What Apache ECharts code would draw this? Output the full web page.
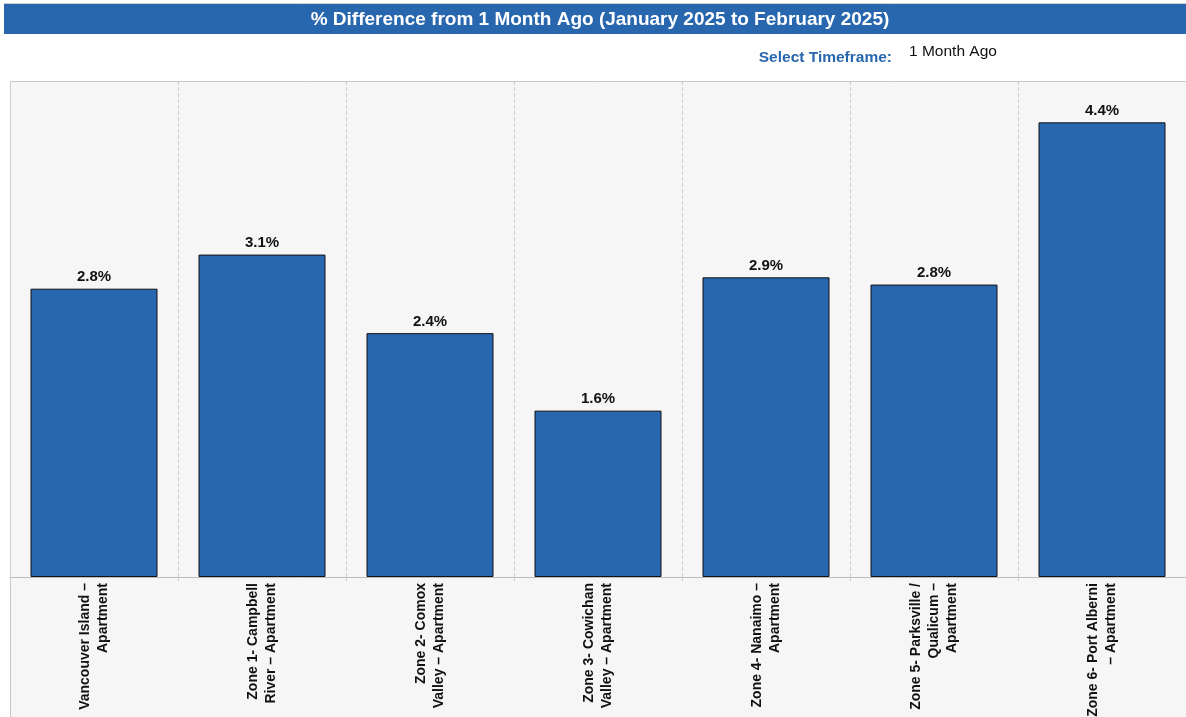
<!DOCTYPE html>
<html><head><meta charset="utf-8">
<script src="https://cdn.jsdelivr.net/npm/echarts@6/dist/echarts.min.js"></script>
<style>html,body{margin:0;padding:0;background:#fff;}#c{width:1186px;height:717px;}</style>
</head><body><div id="c"></div>
<script>
const categories = [
  "Vancouver Island –\nApartment",
  "Zone 1- Campbell\nRiver – Apartment",
  "Zone 2- Comox\nValley – Apartment",
  "Zone 3- Cowichan\nValley – Apartment",
  "Zone 4- Nanaimo –\nApartment",
  "Zone 5- Parksville /\nQualicum –\nApartment",
  "Zone 6- Port Alberni\n– Apartment"
];
const values = [2.79, 3.12, 2.36, 1.61, 2.90, 2.83, 4.40];
const titleText = "% Difference from 1 Month Ago (January 2025 to February 2025)";
const selectLabel = "Select Timeframe:";
const selectValue = "1 Month Ago";

const FONT = "'Liberation Sans', Arial, sans-serif";
const chart = echarts.init(document.getElementById('c'), null, {renderer: 'canvas'});
chart.setOption({
  animation: false,
  backgroundColor: '#ffffff',
  graphic: [
    {type: 'rect', z: -10, shape: {x: 10.5, y: 81.5, width: 1180, height: 640}, style: {fill: '#f6f6f6', stroke: '#c8c8c8', lineWidth: 1}},
    {type: 'rect', z: 0, shape: {x: 4, y: 4, width: 1190, height: 30}, style: {fill: '#2866ae'}},
    {type: 'line', z: 1, shape: {x1: 4, y1: 3.5, x2: 1186, y2: 3.5}, style: {stroke: '#d0d0d0', lineWidth: 1}},
    {type: 'text', z: 2, x: 600, y: 19.5, style: {text: titleText, fill: '#ffffff', font: 'bold 19px ' + FONT, align: 'center', verticalAlign: 'middle'}},
    {type: 'text', z: 2, x: 892, y: 58, style: {text: selectLabel, fill: '#2866ae', font: 'bold 15.5px ' + FONT, align: 'right', verticalAlign: 'middle'}},
    {type: 'text', z: 2, x: 909, y: 52, style: {text: selectValue, fill: '#111111', font: '15.5px ' + FONT, align: 'left', verticalAlign: 'middle'}}
  ],
  grid: {left: 10, right: 0, top: 81, height: 496, containLabel: false, outerBoundsMode: 'none'},
  xAxis: {
    type: 'category',
    data: categories,
    boundaryGap: true,
    axisLine: {show: true, lineStyle: {color: '#bdbdbd', width: 1}},
    axisTick: {show: true, length: 5, lineStyle: {color: '#cfcfcf', type: 'dashed'}},
    splitLine: {show: true, lineStyle: {color: '#cfcfcf', type: 'dashed', width: 1}},
    axisLabel: {interval: 0, rotate: 90, margin: 6, color: '#111', fontFamily: FONT, fontWeight: 'bold', fontSize: 14, lineHeight: 18}
  },
  yAxis: {
    type: 'value', min: 0, max: 4.8,
    show: false,
    splitLine: {show: false}
  },
  series: [{
    type: 'bar',
    data: values,
    barWidth: 127,
    itemStyle: {color: '#2866ae', borderColor: '#111', borderWidth: 1},
    label: {show: true, position: 'top', distance: 4, color: '#111', fontFamily: FONT, fontWeight: 'bold', fontSize: 15,
      formatter: p => p.value.toFixed(1) + '%'}
  }]
});
</script></body></html>
